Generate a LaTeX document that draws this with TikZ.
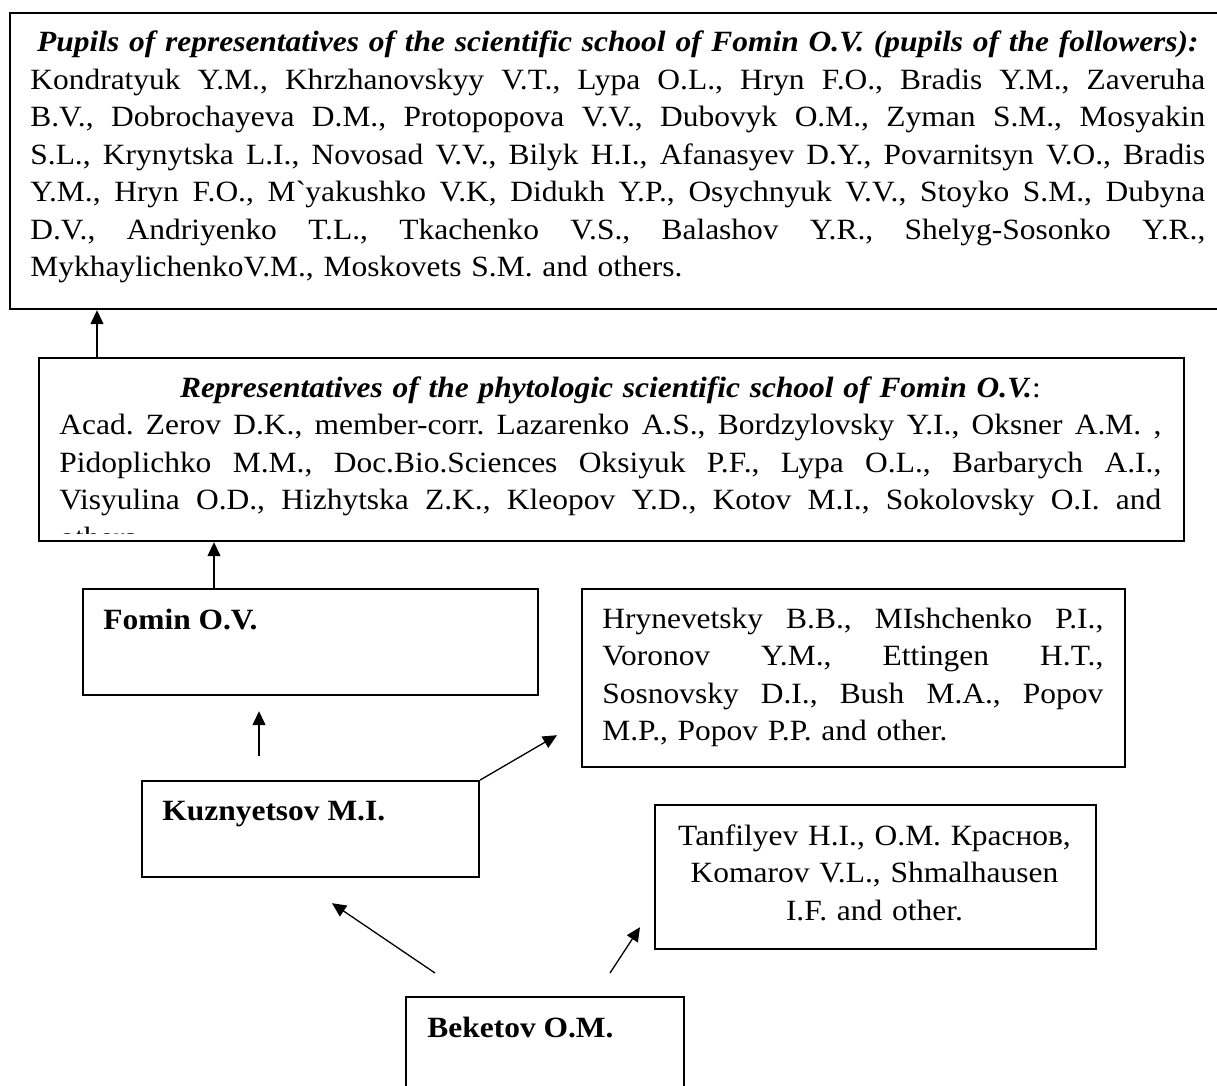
\documentclass[tikz,border=0pt]{standalone}
\usepackage{fontspec}
\setmainfont{Liberation Serif}[FakeStretch=1.07]
\usepackage{tikz}
\usetikzlibrary{arrows.meta, calc}

\newcommand{\fullline}[1]{\hbox to \hsize{\spaceskip=0.25em plus 1fil minus 0.05em\relax #1}}
\newcommand{\midline}[1]{\hbox to \hsize{\hfil #1\hfil}}

\tikzset{
  frame/.style={draw, line width=1.1pt, inner sep=0pt, anchor=north west},
  names/.style={inner sep=0pt, anchor=base west, font=\fontsize{14.7pt}{18.75pt}\selectfont\frenchspacing},
  conn/.style={-{Triangle[length=7pt,width=6.5pt]}, line width=0.65pt},
}

\begin{document}
\begin{tikzpicture}[x=0.5pt, y=-0.5pt]
  \useasboundingbox (0,0) rectangle (1217,1086);

  % Pupils of the followers
  \node[frame, minimum width=610.5pt, minimum height=148pt] (pupils) at (9,12) {};
  \node[names, text width=587.5pt] (pupilstext) at (30,52) {%
    \midline{\bfseries\itshape Pupils of representatives of the scientific school of Fomin O.V. (pupils of the followers):}
    \fullline{Kondratyuk Y.M., Khrzhanovskyy V.T., Lypa O.L., Hryn F.O., Bradis Y.M., Zaveruha}
    \fullline{B.V., Dobrochayeva D.M., Protopopova V.V., Dubovyk O.M., Zyman S.M., Mosyakin}
    \fullline{S.L., Krynytska L.I., Novosad V.V., Bilyk H.I., Afanasyev D.Y., Povarnitsyn V.O., Bradis}
    \fullline{Y.M., Hryn F.O., M\textasciigrave yakushko V.K, Didukh Y.P., Osychnyuk V.V., Stoyko S.M., Dubyna}
    \fullline{D.V., Andriyenko T.L., Tkachenko V.S., Balashov Y.R., Shelyg-Sosonko Y.R.,}
    \hbox{MykhaylichenkoV.M., Moskovets S.M. and others.}};

  % Representatives of the school
  \node[frame, minimum width=572.5pt, minimum height=91.5pt] (repr) at (38,357) {};
  \begin{scope}
    \clip (repr.north west) rectangle ($(repr.south east)+(0,-9)$);
    \node[names, text width=551pt] (reprtext) at (59,397) {%
      \midline{\textbf{\textit{Representatives of the phytologic scientific school of Fomin O.V.}}:}
      \fullline{Acad. Zerov D.K., member-corr. Lazarenko A.S., Bordzylovsky Y.I., Oksner A.M. ,}
      \fullline{Pidoplichko M.M., Doc.Bio.Sciences Oksiyuk P.F., Lypa O.L., Barbarych A.I.,}
      \fullline{Visyulina O.D., Hizhytska Z.K., Kleopov Y.D., Kotov M.I., Sokolovsky O.I. and}
      \hbox{others.}};
  \end{scope}

  % Teachers
  \node[frame, minimum width=227.5pt, minimum height=53pt] (fomin) at (82,588) {};
  \node[names, font=\fontsize{14.7pt}{18.75pt}\selectfont\bfseries] (fomintext) at (103,629) {Fomin O.V.};
  \node[frame, minimum width=168.5pt, minimum height=48pt] (kuzn) at (141,780) {};
  \node[names, font=\fontsize{14.7pt}{18.75pt}\selectfont\bfseries] (kuzntext) at (162,820) {Kuznyetsov M.I.};
  \node[frame, minimum width=139pt, minimum height=55pt] (beketov) at (405,996) {};
  \node[names, font=\fontsize{14.7pt}{18.75pt}\selectfont\bfseries] (beketovtext) at (427,1037) {Beketov O.M.};

  % Other pupils
  \node[frame, minimum width=271.5pt, minimum height=89pt] (hryn) at (581,588) {};
  \node[names, text width=250.5pt] (hryntext) at (602,628) {%
    \fullline{Hrynevetsky B.B., MIshchenko P.I.,}
    \fullline{Voronov Y.M., Ettingen H.T.,}
    \fullline{Sosnovsky D.I., Bush M.A., Popov}
    \hbox{M.P., Popov P.P. and other.}};
  \node[frame, minimum width=220.5pt, minimum height=72pt] (tanf) at (654,804) {};
  \node[names, anchor=base, text width=220pt, align=center] (tanftext) at (874.5,845)
    {Tanfilyev H.I., O.M. Краснов,\\Komarov V.L., Shmalhausen\\I.F. and other.};

  % Arrows
  \coordinate (r1) at ($(repr.north west)+(59,0)$);
  \draw[conn] (r1) -- (r1 |- pupils.south);
  \coordinate (f1) at ($(fomin.north west)+(132,0)$);
  \draw[conn] (f1) -- (f1 |- repr.south);
  \coordinate (k1) at ($(kuzn.north west)+(118,-24)$);
  \coordinate (k2) at ($(fomin.south west)+(177,15)$);
  \draw[conn] (k1) -- (k2);
  \coordinate (h1) at ($(hryn.south west)+(-24,-33)$);
  \draw[conn] (kuzn.north east) -- (h1);
  \coordinate (b1) at ($(beketov.north west)+(30,-23)$);
  \coordinate (b2) at ($(kuzn.south west)+(191,25)$);
  \draw[conn] (b1) -- (b2);
  \coordinate (b3) at ($(beketov.north west)+(205,-23)$);
  \coordinate (t1) at ($(tanf.south west)+(-14,-23)$);
  \draw[conn] (b3) -- (t1);
\end{tikzpicture}
\end{document}
